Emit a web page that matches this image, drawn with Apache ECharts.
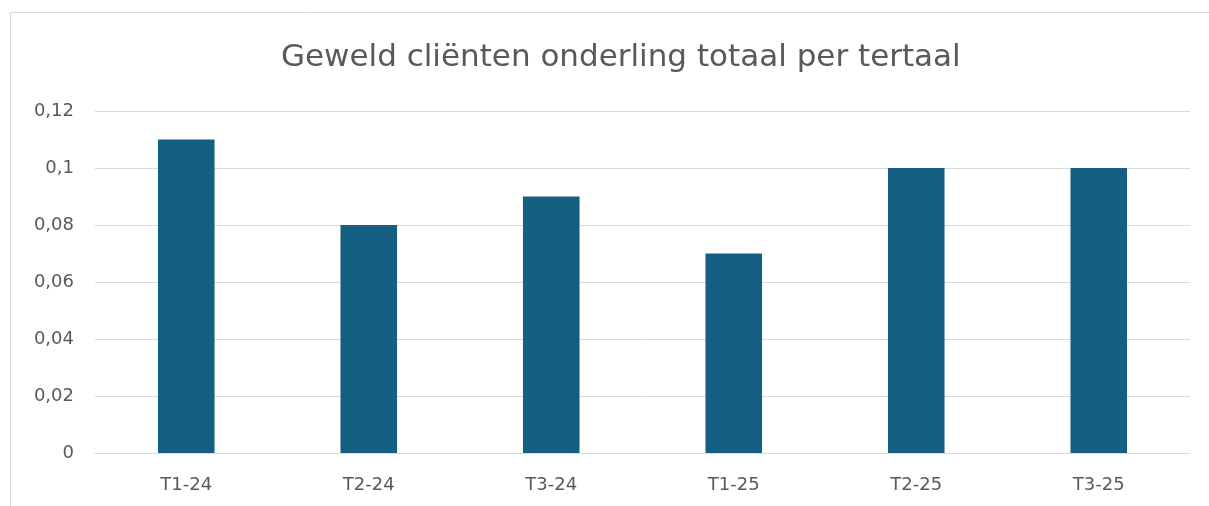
<!DOCTYPE html>
<html>
<head>
<meta charset="utf-8">
<script src="https://cdn.jsdelivr.net/npm/echarts@6/dist/echarts.min.js"></script>
<style>
  html, body { margin: 0; padding: 0; background: #fff; }
  #chart { width: 1209px; height: 506px; }
</style>
</head>
<body>
<div id="chart"></div>
<script>
// data
var categories = ['T1-24', 'T2-24', 'T3-24', 'T1-25', 'T2-25', 'T3-25'];
var values = [0.11, 0.08, 0.09, 0.07, 0.10, 0.10];
var titleText = 'Geweld cliënten onderling totaal per tertaal';

var myChart = echarts.init(document.getElementById('chart'));
myChart.setOption({
  animation: false,
  textStyle: { fontFamily: 'DejaVu Sans' },
  graphic: [{
    type: 'rect',
    shape: { x: 10.5, y: 12.5, width: 1300, height: 600 },
    style: { fill: 'none', stroke: '#d9d9d9', lineWidth: 1 },
    silent: true
  }],
  title: {
    text: titleText,
    left: 276,
    top: 37,
    textStyle: { color: '#595959', fontSize: 31, fontWeight: 'normal', fontFamily: 'DejaVu Sans' }
  },
  grid: { left: 95, right: 19, top: 111, bottom: 53 },
  xAxis: {
    type: 'category',
    data: categories,
    axisLine: { lineStyle: { color: '#d9d9d9', width: 1 } },
    axisTick: { show: false },
    axisLabel: { color: '#595959', fontSize: 18, margin: 23 }
  },
  yAxis: {
    type: 'value',
    min: 0,
    max: 0.12,
    interval: 0.02,
    axisLine: { show: false },
    axisTick: { show: false },
    splitLine: { lineStyle: { color: '#d9d9d9', width: 1 } },
    axisLabel: {
      color: '#595959',
      fontSize: 18,
      margin: 21,
      formatter: function (v) {
        return String(Math.round(v * 100) / 100).replace('.', ',');
      }
    }
  },
  series: [{
    type: 'bar',
    data: values,
    barWidth: '31%',
    itemStyle: { color: '#156082' }
  }]
});
</script>
</body>
</html>
